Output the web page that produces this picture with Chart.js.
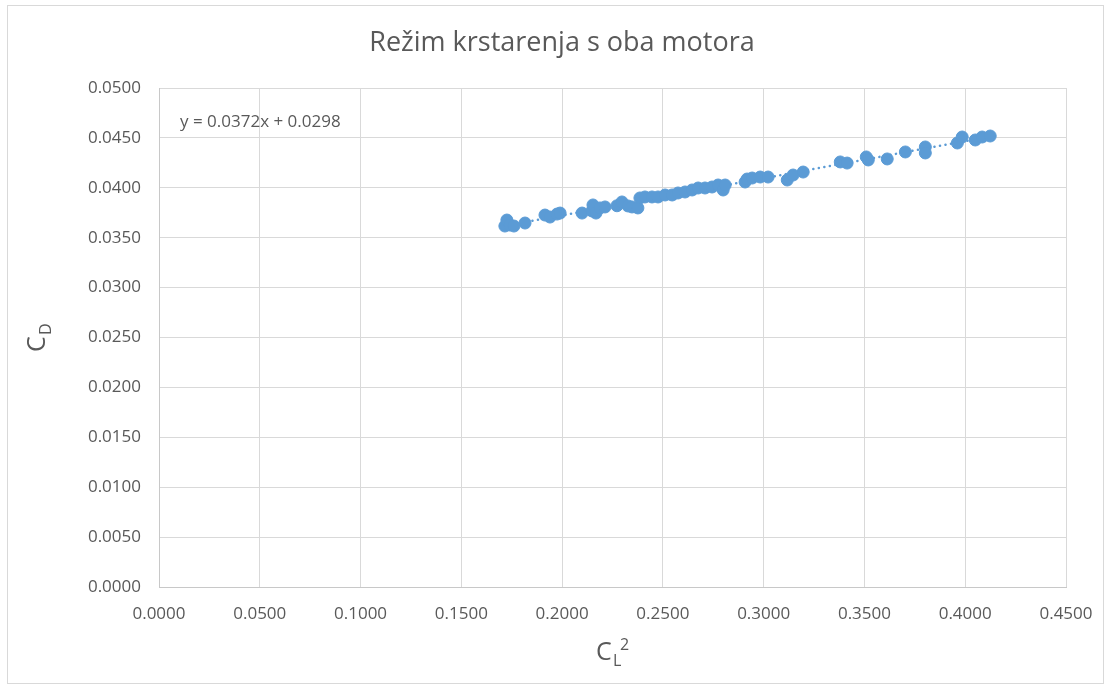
<!DOCTYPE html>
<html lang="hr">
<head>
    <meta charset="UTF-8">
    <title>Režim krstarenja s oba motora</title>
    <script src="https://cdn.jsdelivr.net/npm/chart.js"></script>
    <style>
        body {
            margin: 0;
            background: #fff;
        }
        #wrap {
            position: relative;
            width: 1111px;
            height: 689px;
        }
        #frame {
            position: absolute;
            left: 7px;
            top: 5px;
            width: 1097px;
            height: 679px;
            border: 1px solid #d9d9d9;
            box-sizing: border-box;
        }
        canvas {
            position: absolute;
            left: 0;
            top: 0;
        }
    </style>
</head>
<body>
<div id="wrap">
    <div id="frame"></div>
    <canvas id="dragChart" width="1111" height="689"></canvas>
</div>

<script>
    // C_L^2 values
    const clSquared = [
        0.1716, 0.1726, 0.1741, 0.1761, 0.1816, 0.1915, 0.1940, 0.1975, 0.1990,
        0.2099, 0.2148, 0.2153, 0.2168, 0.2188, 0.2213, 0.2272, 0.2297, 0.2327,
        0.2347, 0.2376, 0.2386, 0.2411, 0.2446, 0.2476, 0.2511, 0.2546, 0.2575,
        0.2610, 0.2645, 0.2675, 0.2709, 0.2744, 0.2774, 0.2799, 0.2809, 0.2908,
        0.2918, 0.2943, 0.2983, 0.3022, 0.3117, 0.3146, 0.3196, 0.3380, 0.3414,
        0.3509, 0.3519, 0.3613, 0.3703, 0.3802, 0.3802, 0.3961, 0.3985, 0.4050,
        0.4084, 0.4124
    ];
    // C_D values
    const cDrag = [
        0.03617, 0.03677, 0.03627, 0.03617, 0.03647, 0.03727, 0.03707, 0.03737, 0.03747,
        0.03747, 0.03768, 0.03828, 0.03747, 0.03798, 0.03808, 0.03820, 0.03858, 0.03818,
        0.03808, 0.03798, 0.03898, 0.03908, 0.03908, 0.03908, 0.03928, 0.03928, 0.03948,
        0.03958, 0.03978, 0.03998, 0.03998, 0.04008, 0.04028, 0.03978, 0.04028, 0.04058,
        0.04088, 0.04098, 0.04108, 0.04108, 0.04078, 0.04128, 0.04158, 0.04259, 0.04248,
        0.04309, 0.04279, 0.04289, 0.04359, 0.04409, 0.04349, 0.04449, 0.04509, 0.04479,
        0.04509, 0.04519
    ];

    // linear trendline shown on the chart
    const trendSlope = 0.0372;
    const trendIntercept = 0.0298;
    const trendLabel = 'y = 0.0372x + 0.0298';

    const xTicks = [0, 0.05, 0.1, 0.15, 0.2, 0.25, 0.3, 0.35, 0.4, 0.45];
    const yTicks = [0, 0.005, 0.01, 0.015, 0.02, 0.025, 0.03, 0.035, 0.04, 0.045, 0.05];

    const chartTitle = 'Režim krstarenja s oba motora';

    const points = clSquared.map((x, i) => ({ x: x, y: cDrag[i] }));
    const xMin = Math.min(...clSquared);
    const xMax = Math.max(...clSquared);
    const trendPoints = [
        { x: xMin, y: trendSlope * xMin + trendIntercept },
        { x: xMax, y: trendSlope * xMax + trendIntercept }
    ];

    const textColor = '#595959';
    const fontFam = '"Open Sans", "Noto Sans", sans-serif';

    // draws title, equation and the axis titles with sub/superscripts
    const textPlugin = {
        id: 'textPlugin',
        afterDraw(chart) {
            const c = chart.ctx;
            c.save();
            c.fillStyle = textColor;

            c.font = '27px ' + fontFam;
            c.textAlign = 'center';
            c.textBaseline = 'middle';
            c.fillText(chartTitle, 562, 43);

            c.font = '17px ' + fontFam;
            c.textAlign = 'left';
            c.fillText(trendLabel, 180, 122);

            // x axis title: C_L^2
            c.textBaseline = 'alphabetic';
            c.font = '25px ' + fontFam;
            c.fillText('C', 596, 660);
            c.font = '16px ' + fontFam;
            c.fillText('L', 613, 666);
            c.fillText('2', 620, 650);

            // y axis title: C_D
            c.translate(45, 352);
            c.rotate(-Math.PI / 2);
            c.font = '25px ' + fontFam;
            c.fillText('C', 0, 0);
            c.font = '16px ' + fontFam;
            c.fillText('D', 17, 6);
            c.restore();
        }
    };

    const ctx = document.getElementById('dragChart').getContext('2d');
    const chart = new Chart(ctx, {
        type: 'scatter',
        data: {
            datasets: [
                {
                    label: 'Trend',
                    type: 'line',
                    data: trendPoints,
                    borderColor: '#5b9bd5',
                    borderWidth: 2.5,
                    borderDash: [0.1, 5.5],
                    borderCapStyle: 'round',
                    pointRadius: 0,
                    fill: false,
                    order: 2
                },
                {
                    label: 'CD',
                    data: points,
                    backgroundColor: '#5b9bd5',
                    borderColor: '#5b9bd5',
                    pointRadius: 6,
                    pointHoverRadius: 6,
                    order: 1
                }
            ]
        },
        options: {
            responsive: false,
            animation: false,
            layout: {
                padding: { top: 88, right: 45, bottom: 0, left: 0 }
            },
            plugins: {
                legend: { display: false },
                tooltip: { enabled: false }
            },
            scales: {
                x: {
                    type: 'linear',
                    min: 0,
                    max: 0.45,
                    afterBuildTicks: (scale) => {
                        scale.ticks = xTicks.map(v => ({ value: v }));
                    },
                    afterFit: (scale) => { scale.height = 102; },
                    grid: { color: '#d9d9d9', drawTicks: false, tickLength: 0 },
                    border: { color: '#c8c8c8' },
                    ticks: {
                        color: textColor,
                        font: { family: fontFam, size: 17 },
                        padding: 17,
                        maxRotation: 0,
                        callback: (v) => Number(v).toFixed(4)
                    }
                },
                y: {
                    type: 'linear',
                    min: 0,
                    max: 0.05,
                    afterBuildTicks: (scale) => {
                        scale.ticks = yTicks.map(v => ({ value: v }));
                    },
                    afterFit: (scale) => { scale.width = 159; },
                    grid: { color: '#d9d9d9', drawTicks: false, tickLength: 0 },
                    border: { color: '#c8c8c8' },
                    ticks: {
                        color: textColor,
                        font: { family: fontFam, size: 17 },
                        padding: 18,
                        callback: (v) => Number(v).toFixed(4)
                    }
                }
            }
        },
        plugins: [textPlugin]
    });
</script>
</body>
</html>
